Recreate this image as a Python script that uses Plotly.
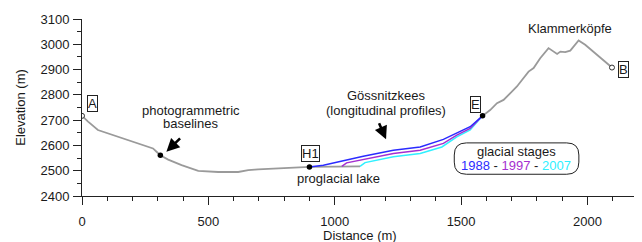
import plotly.graph_objects as go

# ---- data ----
left_dist = [0, 24, 63, 103, 143, 182, 235, 281, 295, 310, 341, 394, 460, 539, 618, 658, 697, 763, 830, 900, 1000, 1100]
left_elev = [2717, 2694, 2661, 2648, 2634, 2621, 2604, 2588, 2575, 2561, 2544, 2522, 2499, 2495, 2495, 2502, 2505, 2509, 2513, 2515, 2516, 2517]

right_dist = [1585, 1615, 1642, 1668, 1694, 1721, 1741, 1767, 1787, 1813, 1846, 1860, 1880, 1893, 1912, 1932, 1945, 1965, 1991, 2024, 2064, 2097]
right_elev = [2717, 2740, 2767, 2780, 2806, 2833, 2859, 2892, 2906, 2945, 2985, 2975, 2962, 2971, 2969, 2975, 2991, 3015, 2998, 2971, 2938, 2908]

g1988_dist = [900, 955, 1034, 1113, 1232, 1338, 1430, 1483, 1536, 1585]
g1988_elev = [2515, 2522, 2539, 2557, 2581, 2594, 2624, 2648, 2674, 2717]

g1997_dist = [1028, 1047, 1232, 1338, 1430, 1483, 1536, 1585]
g1997_elev = [2517, 2531, 2568, 2581, 2608, 2641, 2667, 2717]

g2007_dist = [1100, 1120, 1232, 1338, 1424, 1483, 1536, 1585]
g2007_elev = [2517, 2532, 2555, 2568, 2594, 2634, 2661, 2717]

open_pts_dist = [0, 2097]
open_pts_elev = [2717, 2908]
filled_pts_dist = [310, 900, 1585]
filled_pts_elev = [2561, 2515, 2717]

x_ticks = [0, 500, 1000, 1500, 2000]
y_ticks = [2400, 2500, 2600, 2700, 2800, 2900, 3000, 3100]

GRAY = "#9a9a9a"
C1988 = "#2b2bff"
C1997 = "#a52fd0"
C2007 = "#2ff0ff"
FONT = "Liberation Sans, Arial, sans-serif"
TXT = "#1a1a1a"

fig = go.Figure()
fig.add_trace(go.Scatter(x=left_dist, y=left_elev, mode="lines",
                         line=dict(color=GRAY, width=1.8), hoverinfo="skip"))
fig.add_trace(go.Scatter(x=right_dist, y=right_elev, mode="lines",
                         line=dict(color=GRAY, width=1.8), hoverinfo="skip"))
fig.add_trace(go.Scatter(x=g2007_dist, y=g2007_elev, mode="lines",
                         line=dict(color=C2007, width=1.5)))
fig.add_trace(go.Scatter(x=g1997_dist, y=g1997_elev, mode="lines",
                         line=dict(color=C1997, width=1.5)))
fig.add_trace(go.Scatter(x=g1988_dist, y=g1988_elev, mode="lines",
                         line=dict(color=C1988, width=1.5)))
fig.add_trace(go.Scatter(x=open_pts_dist, y=open_pts_elev, mode="markers",
                         marker=dict(size=5, color="white", line=dict(color="#333", width=1))))
fig.add_trace(go.Scatter(x=filled_pts_dist, y=filled_pts_elev, mode="markers",
                         marker=dict(size=5.5, color="black")))

# rounded box for the glacial stages legend
bx0, bx1, by0, by1, r = 1473, 1966, 2486, 2610, 48
path = (f"M {bx0+r},{by0} L {bx1-r},{by0} Q {bx1},{by0} {bx1},{by0+r} "
        f"L {bx1},{by1-r} Q {bx1},{by1} {bx1-r},{by1} L {bx0+r},{by1} "
        f"Q {bx0},{by1} {bx0},{by1-r} L {bx0},{by0+r} Q {bx0},{by0} {bx0+r},{by0} Z")
fig.add_shape(type="path", path=path, xref="x", yref="y",
              line=dict(color="#222", width=1), fillcolor="white", layer="above")

ann = []
def txt(x, y, t, **kw):
    d = dict(x=x, y=y, xref="x", yref="y", text=t, showarrow=False,
             font=dict(family=FONT, size=13, color=TXT))
    d.update(kw)
    ann.append(d)

def boxed(x, y, t):
    txt(x, y, t, bordercolor="#222", borderwidth=1, borderpad=0,
        font=dict(family=FONT, size=13, color=TXT))

boxed(42, 2764, "A")
boxed(904, 2569, "H1")
boxed(1556, 2760, "E")
boxed(2142, 2899, "B")
txt(431, 2740, "photogrammetric")
txt(431, 2685, "baselines")
txt(1014, 2470, "proglacial lake")
txt(1203, 2799, "Gössnitzkees")
txt(1203, 2740, "(longitudinal profiles)")
txt(1929, 3064, "Klammerköpfe")
txt(1718, 2575, "glacial stages")
txt(1718, 2519, f'<span style="color:{C1988}">1988</span> - '
                f'<span style="color:{C1997}">1997</span> - '
                f'<span style="color:{C2007}">2007</span>')

# x-axis title placed just under the tick labels
ann.append(dict(x=0.5, y=-0.222, xref="paper", yref="paper", text="Distance (m)",
                showarrow=False, yanchor="middle",
                font=dict(family=FONT, size=13, color=TXT)))

# arrows
for (tx, ty, sx, sy) in [(334, 2575, 394, 2634), (1203, 2624, 1173, 2694)]:
    ann.append(dict(x=tx, y=ty, ax=sx, ay=sy, xref="x", yref="y",
                    axref="x", ayref="y", text="", showarrow=True,
                    arrowhead=2, arrowsize=1.0, arrowwidth=2.6, arrowcolor="black"))

# the page body adds an 8 px offset, so the figure is 8 px smaller
fig.update_layout(
    width=634, height=234,
    margin=dict(l=74, r=4, t=11, b=46),
    paper_bgcolor="white", plot_bgcolor="white",
    showlegend=False,
    font=dict(family=FONT, size=13, color=TXT),
    annotations=ann,
    xaxis=dict(range=[0, 2200], tickvals=x_ticks, showgrid=False, zeroline=False,
               automargin=False,
               showline=True, linecolor="#222", linewidth=1,
               ticks="outside", ticklen=8, tickwidth=1, tickcolor="#222",
               ticklabelstandoff=5,
               minor=dict(ticks="outside", ticklen=4, dtick=100, tickcolor="#222", showgrid=False)),
    yaxis=dict(range=[2400, 3100], tickvals=y_ticks, showgrid=False, zeroline=False,
               automargin=False,
               showline=True, linecolor="#222", linewidth=1,
               ticks="outside", ticklen=8, tickwidth=1, tickcolor="#222",
               ticklabelstandoff=1,
               minor=dict(ticks="outside", ticklen=4, dtick=50, tickcolor="#222", showgrid=False),
               title=dict(text="Elevation (m)", standoff=11, font=dict(family=FONT, size=13, color=TXT))),
)

fig.write_html("out.html")
